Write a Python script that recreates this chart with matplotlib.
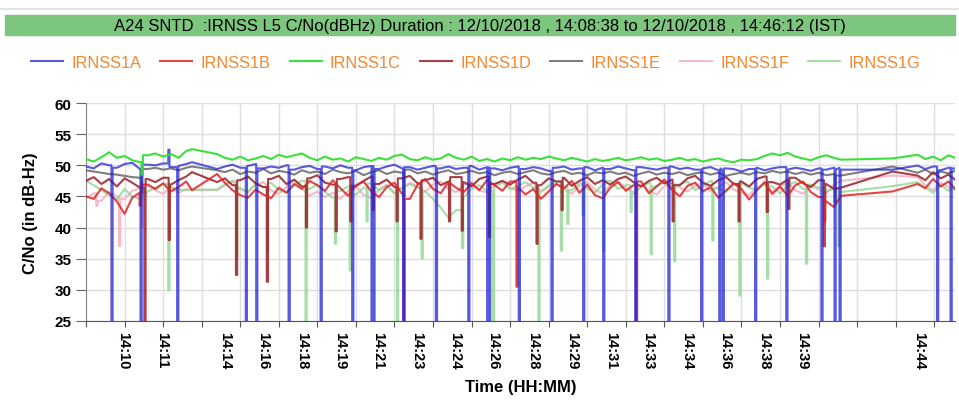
import numpy as np
import matplotlib.pyplot as plt
from matplotlib.patches import Rectangle
from matplotlib.lines import Line2D

plt.rcParams['font.family'] = ['Liberation Sans', 'DejaVu Sans']

# time axis: seconds since 14:08:38
t_seg1 = list(range(0, 261, 20)) + [275]
t_seg2 = list(range(340, 1941, 20)) + [1958]
t_gap = [2092]
t_seg3 = [2157, 2177, 2197, 2217, 2237, 2254]
t = t_seg1 + t_seg2 + t_gap + t_seg3

# C/No (dB-Hz)
irnss1a = ([49.8, 49.5, 50.3, 50.0, 49.6, 50.2, 50.4, 49.4, 50.1, 50.0, 50.3, 49.7, 49.9, 50.2, 50.5]
           + [49.4, 49.8, 50.1, 49.6, 49.9, 50.2, 49.5, 49.8, 49.6, 50.0,
              49.3, 49.7, 49.9, 49.4, 49.8, 49.5, 50.0, 49.6, 49.2, 49.7,
              49.9, 49.4, 49.8, 50.1, 49.5, 49.7, 49.3, 49.6, 49.9, 49.5,
              49.8, 49.4, 49.6, 49.9, 49.3, 49.7, 49.5, 49.2, 49.6, 49.8,
              49.4, 49.7, 49.5, 49.1, 49.6, 49.8, 49.3, 49.5, 49.7, 49.2,
              49.6, 49.4, 49.8, 49.5, 49.2, 49.7, 49.5, 49.3, 49.6, 49.8,
              49.4, 49.6, 49.3, 49.5, 49.7, 49.2, 49.5, 49.4, 49.0, 49.4,
              49.6, 49.2, 49.5, 49.7, 49.3, 49.6, 49.4, 49.1, 49.5, 49.3,
              49.6, 49.3]
           + [49.3]
           + [49.96, 49.4, 49.8, 49.2, 49.6, 49.5])
irnss1b = ([45.0, 44.6, 46.3, 45.5, 44.2, 42.2, 44.8, 45.6, 46.9, 46.2, 47.1, 45.8, 46.5, 47.4, 46.0]
           + [48.6, 47.2, 46.0, 45.2, 44.8, 46.1, 45.3, 44.7, 46.4, 45.6,
              47.0, 46.2, 47.5, 46.8, 45.9, 47.6, 46.3, 45.1, 46.7, 47.4,
              45.8, 44.9, 46.5, 47.2, 45.4, 44.6, 46.9, 47.8, 46.2, 45.5,
              47.3, 46.4, 45.7, 47.1, 46.0, 47.6, 46.8, 45.9, 47.4, 46.5,
              45.3, 46.2, 44.6, 45.8, 47.0, 46.3, 47.5, 45.6, 46.9, 45.2,
              44.7, 46.4, 47.3, 45.9, 46.8, 47.4, 45.5, 46.6, 47.7, 46.1,
              45.0, 46.7, 47.2, 45.8, 46.5, 44.8, 45.9, 47.1, 46.2, 44.5,
              46.0, 47.3, 45.4, 46.6, 45.1, 46.8, 47.4, 45.7, 44.9, 44.2,
              43.3, 45.1]
           + [45.8]
           + [47.0, 46.3, 47.8, 46.6, 47.4, 46.2])
irnss1c = ([51.0, 50.6, 51.3, 52.1, 51.2, 51.5, 50.8, 50.5, 51.6, 51.9, 51.4, 51.8, 51.2, 52.3, 52.6]
           + [51.8, 51.2, 50.9, 51.4, 50.8, 51.1, 51.5, 51.0, 51.7, 51.3,
              51.6, 51.9, 51.2, 50.8, 51.4, 50.9, 51.1, 50.6, 51.3, 51.0,
              50.7, 51.2, 50.9, 51.5, 51.7, 51.0, 50.8, 51.3, 50.9, 51.1,
              51.8, 51.2, 50.9, 51.4, 50.7, 51.0, 50.6, 51.1, 50.8, 51.3,
              50.9, 51.2, 51.0, 51.4, 51.1, 50.8, 51.2, 50.9, 50.6, 51.0,
              50.7, 50.9, 51.2, 50.8, 51.0, 51.3, 50.9, 51.1, 50.7, 50.9,
              51.2, 50.8, 51.0, 50.6, 50.9, 51.1, 50.7, 50.5, 50.9, 50.8,
              51.0, 51.5, 51.9, 51.6, 52.0, 51.4, 51.1, 50.8, 51.3, 51.6,
              51.2, 50.9]
           + [51.1]
           + [51.7, 51.0, 51.4, 50.8, 51.6, 51.2])
irnss1d = ([47.5, 48.1, 47.0, 47.8, 46.6, 47.9, 47.2, 46.4, 47.8, 47.3, 48.0, 46.9, 47.6, 48.2, 48.9]
           + [47.3, 47.9, 46.8, 47.6, 48.2, 47.1, 46.5, 47.8, 48.3, 47.0,
              47.7, 46.6, 47.9, 48.4, 47.2, 46.9, 47.8, 48.1, 46.7, 47.5,
              48.2, 47.0, 47.7, 46.5, 47.9, 48.3, 47.1, 47.6, 48.0, 46.8,
              47.4, 48.1, 47.3, 46.6, 47.8, 48.2, 47.0, 47.5, 46.9, 47.7,
              48.3, 47.2, 46.8, 47.9, 47.4, 48.0, 46.7, 47.5, 48.1, 47.0,
              47.6, 46.9, 47.8, 48.2, 47.3, 46.6, 47.5, 48.0, 47.1, 47.7,
              46.8, 47.9, 48.3, 47.2, 46.7, 47.6, 48.1, 47.0, 47.4, 46.6,
              47.8, 48.2, 47.3, 46.9, 47.7, 48.0, 47.1, 46.5, 47.6, 47.0,
              46.2, 46.4]
           + [49.0]
           + [48.35, 47.6, 48.9, 47.9, 48.5, 47.7])
irnss1e = ([49.2, 49.0, 48.8, 48.6, 48.5, 48.3, 48.1, 48.0, 49.4, 49.6, 49.3, 49.5, 49.2, 49.6, 49.8]
           + [49.2, 48.9, 49.3, 48.6, 49.0, 48.8, 49.4, 48.7, 49.1, 48.9,
              48.5, 49.2, 48.8, 49.0, 48.6, 49.3, 48.9, 48.7, 49.1, 48.4,
              48.9, 49.2, 48.6, 49.0, 48.8, 49.3, 48.7, 49.0, 48.5, 48.9,
              49.2, 48.6, 48.8, 49.1, 48.7, 48.9, 48.4, 48.8, 49.0, 48.6,
              48.9, 49.2, 48.7, 48.5, 48.9, 49.1, 48.6, 48.8, 48.4, 48.9,
              48.7, 49.0, 48.6, 48.8, 48.3, 48.7, 49.0, 48.5, 48.8, 48.6,
              48.9, 48.4, 48.7, 48.9, 48.5, 48.8, 48.3, 48.6, 48.8, 48.5,
              48.9, 48.7, 49.1, 48.8, 49.0, 48.6, 48.9, 48.5, 48.8, 48.4,
              48.6, 48.35]
           + [49.8]
           + [48.8, 49.3, 48.6, 49.0, 48.7, 49.1])
irnss1f = ([44.8, 45.5, 44.3, 45.8, 45.0, 44.6, 45.9, 46.3, 46.8, 46.0, 45.4, 46.5, 45.6, 46.2, 46.0]
           + [46.0, 46.8, 47.5, 46.2, 45.6, 46.9, 47.3, 46.0, 45.4, 46.5,
              47.6, 46.3, 45.1, 45.8, 44.9, 45.6, 44.6, 45.9, 46.7, 45.2,
              44.7, 46.1, 46.9, 45.5, 46.4, 47.2, 46.6, 45.8, 46.9, 47.4,
              46.2, 45.7, 46.8, 47.3, 46.0, 45.6, 46.9, 47.5, 46.4, 45.9,
              46.6, 47.2, 45.8, 46.5, 47.0, 46.2, 45.4, 46.7, 47.3, 46.1,
              45.5, 46.8, 47.4, 46.3, 45.7, 46.9, 46.0, 45.3, 46.6, 47.2,
              46.4, 45.8, 46.7, 47.1, 45.9, 46.5, 47.3, 46.1, 45.6, 45.2,
              46.4, 47.0, 45.7, 46.6, 47.2, 46.0, 45.4, 46.8, 46.1, 45.5,
              46.9, 47.5]
           + [48.35]
           + [48.1, 46.8, 46.0, 47.2, 46.5, 46.1])
irnss1g = ([47.5, 46.8, 46.0, 45.2, 44.5, 46.2, 45.0, 44.6, 45.8, 46.4, 47.0, 46.5, 46.1, 46.0, 46.1]
           + [46.1, 46.9, 47.4, 46.3, 45.8, 47.0, 46.5, 47.2, 46.0, 45.6,
              46.8, 47.5, 46.2, 46.9, 45.7, 44.8, 45.9, 46.6, 45.3, 46.4,
              47.1, 46.0, 46.7, 45.5, 46.3, 47.0, 46.4, 45.8, 44.6, 43.2,
              41.6, 42.8, 44.9, 46.2, 46.8, 45.9, 46.6, 47.2, 46.1, 46.7,
              47.3, 46.4, 45.7, 46.8, 47.4, 46.5, 46.0, 47.1, 46.3, 45.6,
              46.9, 47.5, 46.2, 46.8, 45.4, 46.5, 47.2, 46.6, 47.3, 46.1,
              46.9, 47.4, 46.0, 46.7, 47.5, 46.3, 45.8, 46.9, 47.2, 46.4,
              46.0, 47.1, 46.6, 45.5, 46.8, 47.3, 46.2, 46.9, 46.4, 45.8,
              46.2, 45.7]
           + [46.65]
           + [47.3, 46.4, 45.6, 46.8, 45.9, 46.6])

# short dropouts / spikes: (time s, level dB-Hz)
dips_1a = [(67.5, 0), (143, 0), (215, 52.5), (238, 0), (416, 0), (443, 0), (527, 0),
           (610, 0), (692, 0), (742, 0), (747, 0), (824, 0), (909, 0), (993, 0),
           (1042, 0), (1047, 0), (1124, 0), (1209, 0), (1291, 0), (1343, 0), (1426, 0),
           (1512, 0), (1597, 0), (1644, 0), (1653, 0), (1737, 0), (1818, 0), (1909, 0),
           (1943, 0), (1956, 0), (2209, 0), (2244, 0)]
dips_1b = [(141, 43.5), (825, 0), (1118, 30.5), (1428, 0), (1915, 37)]
dips_1c = [(146, 48.5)]
dips_1d = [(153, 0), (216, 38), (390.5, 32.4), (470.5, 31.3), (572, 40), (649, 39.4),
           (687, 41), (745, 42.8), (807, 41), (869, 38.2), (943, 41), (976, 39.5),
           (1046.5, 38.5), (1170, 37.4), (1235, 42.8), (1523, 41), (1694, 41),
           (1767, 42.5), (1823, 43), (1916, 41)]
dips_1e = [(145, 45.5), (825, 45.0), (1943, 44.0)]
dips_1f = [(28, 43.5), (87.5, 37), (146, 40)]
dips_1g = [(215, 29.9), (391, 35), (471, 36), (571, 0), (647, 37.4), (685.5, 33.1),
           (729, 41), (808, 0), (872, 35), (977, 36.7), (1057, 0), (1175, 0),
           (1233, 36.3), (1250, 40.6), (1289, 42), (1343, 36.3), (1414, 42.5),
           (1466, 35.7), (1527, 34.6), (1626, 37.9), (1696, 29.1), (1768, 31.8),
           (1869, 34.2), (1915, 37), (1953, 37)]

names = ['IRNSS1A', 'IRNSS1B', 'IRNSS1C', 'IRNSS1D', 'IRNSS1E', 'IRNSS1F', 'IRNSS1G']
colors = ['#2222d4', '#e02424', '#2fe02f', '#9e2a30', '#5e5e5e', '#f5b3c6', '#8fd88f']

tick_times = [96, 197, 361, 460, 561, 660, 758, 860, 958, 1057, 1161, 1261,
              1361, 1459, 1560, 1659, 1758, 1858, 2160]
tick_labels = ['14:10', '14:11', '14:14', '14:16', '14:18', '14:19', '14:21', '14:23',
               '14:24', '14:26', '14:28', '14:29', '14:31', '14:33', '14:34', '14:36',
               '14:38', '14:39', '14:44']

title = ('A24 SNTD  :IRNSS L5 C/No(dBHz) Duration : 12/10/2018 , 14:08:38 '
         'to 12/10/2018 , 14:46:12 (IST)')


def with_dips(t, y, dips, w=1.6):
    t = np.array(t, float)
    y = np.array(y, float)
    tt, yy = list(t), list(y)
    for td, lv in dips:
        i = np.searchsorted(t, td)
        tt += [td - w, td - w, td + w, td + w]
        yy += [y[i - 1], lv, lv, y[i]]
    order = np.argsort(tt, kind='stable')
    return np.array(tt)[order], np.array(yy)[order]


fig = plt.figure(figsize=(9.59, 4.02), dpi=100)
ax = fig.add_axes([86 / 959, 80 / 402, 869 / 959, 218 / 402])

series = [irnss1a, irnss1b, irnss1c, irnss1d, irnss1e, irnss1f, irnss1g]
dips = [dips_1a, dips_1b, dips_1c, dips_1d, dips_1e, dips_1f, dips_1g]
zorders = [6, 5, 7, 4, 3, 1, 2]
alphas = [0.75, 0.85, 0.95, 0.9, 0.8, 0.9, 0.8]
handles = []
for y, d, c, n, z, a in zip(series, dips, colors, names, zorders, alphas):
    xs, ys = with_dips(t, y, d)
    ln, = ax.plot(xs, ys, color=c, lw=1.5, alpha=a, zorder=z, label=n)
    handles.append(ln)

ax.set_xlim(0, 2254)
ax.set_ylim(25, 60)
ax.set_yticks(range(25, 61, 5))
ax.set_xticks(range(0, 2254, 100))
ax.set_xticklabels([])
ax.set_xticks(tick_times, tick_labels, minor=True)
ax.tick_params(axis='x', which='major', length=4, color='#555555')
ax.tick_params(axis='x', which='minor', length=0, pad=7, labelrotation=270,
               labelsize=10.5)
ax.tick_params(axis='y', length=7, pad=3.5, labelsize=11, color='#666666')
for lab in ax.get_xticklabels(minor=True) + ax.get_yticklabels():
    lab.set_fontweight('bold')
ax.grid(True, which='major', color='#dedede', lw=1, zorder=0)
ax.set_axisbelow(True)
for s in ['top', 'right']:
    ax.spines[s].set_visible(False)
ax.spines['left'].set_color('#888888')
ax.spines['bottom'].set_color('#555555')

ax.set_ylabel('C/No (in dB-Hz)', fontsize=12, fontweight='bold', labelpad=12)
ax.set_xlabel('Time (HH:MM)', fontsize=12, fontweight='bold', labelpad=8)

# header bar
fig.add_artist(Line2D([0, 1], [1 - 10 / 402] * 2, color='#e4e4e4', lw=1.5))
fig.add_artist(Rectangle((5 / 959, 1 - 36 / 402), 950 / 959, 20.5 / 402,
                         color='#7dc67d', transform=fig.transFigure))
fig.text(0.5, 1 - 26 / 402, title, ha='center', va='center', fontsize=12)

fig.legend(handles, names, loc='center', bbox_to_anchor=(0.496, 1 - 63 / 402),
           ncol=7, frameon=False, fontsize=11.8, labelcolor='#f5882f',
           handlelength=1.95, handletextpad=0.5, columnspacing=1.18)

fig.savefig('out.png', dpi=100)
